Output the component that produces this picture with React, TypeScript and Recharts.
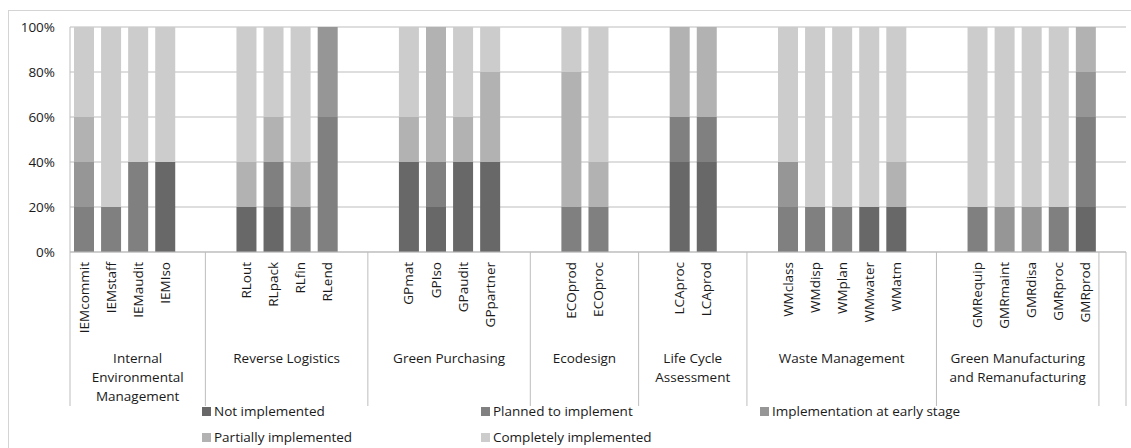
import React from "react";
import { BarChart, Bar, XAxis, YAxis, CartesianGrid } from "recharts";

// ---- data ----
const groupLabels: string[][] = [
  ["Internal", "Environmental", "Management"],
  ["Reverse Logistics"],
  ["Green Purchasing"],
  ["Ecodesign"],
  ["Life Cycle", "Assessment"],
  ["Waste Management"],
  ["Green Manufacturing", "and Remanufacturing"],
  [],
];

const groupItems: string[][] = [
  ["IEMcommit", "IEMstaff", "IEMaudit", "IEMIso"],
  ["RLout", "RLpack", "RLfin", "RLend"],
  ["GPmat", "GPIso", "GPaudit", "GPpartner"],
  ["ECOprod", "ECOproc"],
  ["LCAproc", "LCAprod"],
  ["WMclass", "WMdisp", "WMplan", "WMwater", "WMatm"],
  ["GMRequip", "GMRmaint", "GMRdisa", "GMRproc", "GMRprod"],
  [],
];

const seriesNames = [
  "Not implemented",
  "Planned to implement",
  "Implementation at early stage",
  "Partially implemented",
  "Completely implemented",
];

const notImplemented = [0, 0, 0, 40, 20, 20, 0, 0, 40, 20, 40, 40, 0, 0, 40, 40, 0, 0, 0, 20, 20, 0, 0, 0, 0, 20];
const plannedToImplement = [20, 20, 40, 0, 0, 20, 20, 60, 0, 20, 0, 0, 20, 20, 20, 20, 20, 20, 20, 0, 0, 20, 0, 0, 20, 40];
const earlyStage = [20, 0, 0, 0, 0, 0, 0, 40, 0, 0, 0, 0, 0, 0, 0, 0, 20, 0, 0, 0, 0, 0, 20, 20, 0, 20];
const partiallyImplemented = [20, 0, 0, 0, 20, 20, 20, 0, 20, 60, 20, 40, 60, 20, 40, 40, 0, 0, 0, 0, 20, 0, 0, 0, 0, 20];
const completelyImplemented = [40, 80, 60, 60, 60, 40, 60, 0, 40, 0, 40, 20, 20, 60, 0, 0, 60, 80, 80, 80, 60, 80, 80, 80, 80, 0];

const yTicks = [0, 20, 40, 60, 80, 100];

// ---- styles / layout ----
const seriesValues = [notImplemented, plannedToImplement, earlyStage, partiallyImplemented, completelyImplemented];
const seriesKeys = ["s0", "s1", "s2", "s3", "s4"];
const seriesColors = ["#686868", "#808080", "#969696", "#b2b2b2", "#cccccc"];
// empty slots before / after each group (layout of the multi-level axis)
const padBefore = [0, 1, 1, 1, 1, 1, 1, 1];
const padAfter = [1, 1, 1, 1, 1, 1, 0, 0];

type Row = { [k: string]: any };
const rows: Row[] = [];
let barIdx = 0;
groupItems.forEach((items, g) => {
  const slots = padBefore[g] + items.length + padAfter[g];
  const start = rows.length;
  const pushEmpty = () => {
    const r: Row = { name: "", group: g };
    seriesKeys.forEach((k) => (r[k] = 0));
    rows.push(r);
  };
  for (let i = 0; i < padBefore[g]; i++) pushEmpty();
  items.forEach((it) => {
    const r: Row = { name: it, group: g };
    seriesKeys.forEach((k, s) => (r[k] = seriesValues[s][barIdx]));
    barIdx++;
    rows.push(r);
  });
  for (let i = 0; i < padAfter[g]; i++) pushEmpty();
  rows[start].groupStart = true;
  rows[start].groupSlots = slots;
});

const FONT = "'Open Sans', 'DejaVu Sans', sans-serif";
const TEXT = "#1a1a1a";
const LINE = "#bdbdbd";

function CatTick(props: any) {
  const { x, y, index, width } = props;
  const row = rows[index];
  if (!row) return null;
  const slot = width / rows.length;
  const els: React.ReactNode[] = [];
  if (row.name) {
    els.push(
      <text
        key="t"
        x={x + 5}
        y={y + 10}
        transform={`rotate(-90 ${x + 5} ${y + 10})`}
        textAnchor="end"
        fontFamily={FONT}
        fontSize={13.5}
        fill={TEXT}
      >
        {row.name}
      </text>
    );
  }
  if (row.groupStart) {
    const left = x - slot / 2;
    els.push(<line key="l" x1={left} x2={left} y1={y} y2={y + 154} stroke={LINE} strokeWidth={1} />);
    const cx = left + (row.groupSlots * slot) / 2;
    groupLabels[row.group].forEach((ln, i) => {
      els.push(
        <text key={"g" + i} x={cx} y={y + 111 + i * 19} textAnchor="middle" fontFamily={FONT} fontSize={13.5} fill={TEXT}>
          {ln}
        </text>
      );
    });
  }
  if (index === rows.length - 1) {
    const right = x + slot / 2;
    els.push(<line key="r" x1={right} x2={right} y1={y} y2={y + 154} stroke={LINE} strokeWidth={1} />);
  }
  return <g>{els}</g>;
}

export default function App() {
  return (
    <div style={{ position: "fixed", left: 0, top: 0, width: 1131, height: 448, overflow: "hidden", background: "#fff" }}>
      <div
        style={{
          position: "absolute",
          left: 8,
          top: 10,
          width: 1200,
          height: 600,
          borderLeft: "1px solid #d4d4d4",
          borderTop: "1px solid #d4d4d4",
        }}
      />
      <div style={{ position: "absolute", left: 0, top: 0 }}>
        <BarChart
          width={1131}
          height={448}
          data={rows}
          margin={{ top: 27, right: 5, bottom: 0, left: 10 }}
          barSize={20}
        >
          <CartesianGrid vertical={false} stroke={LINE} strokeWidth={1} />
          <XAxis
            dataKey="name"
            interval={0}
            height={196}
            tickLine={false}
            tickSize={0}
            tickMargin={0}
            axisLine={{ stroke: LINE }}
            tick={<CatTick />}
          />
          <YAxis
            width={60}
            domain={[0, 100]}
            ticks={yTicks}
            interval={0}
            tickLine={false}
            tickSize={0}
            tickMargin={15}
            axisLine={{ stroke: LINE }}
            tickFormatter={(v: number) => `${v}%`}
            tick={{ fontFamily: FONT, fontSize: 13.5, fill: TEXT }}
          />
          {seriesKeys.map((k, i) => (
            <Bar key={k} dataKey={k} name={seriesNames[i]} stackId="a" fill={seriesColors[i]} isAnimationActive={false} />
          ))}
        </BarChart>
      </div>
      {seriesNames.map((n, i) => {
        const col = i % 3;
        const row = Math.floor(i / 3);
        return (
          <div
            key={n}
            style={{
              position: "absolute",
              left: 202 + col * 279,
              top: 402 + row * 26,
              height: 18,
              lineHeight: "18px",
              display: "flex",
              alignItems: "center",
              fontFamily: FONT,
              fontSize: 13.5,
              color: TEXT,
              whiteSpace: "nowrap",
            }}
          >
            <span style={{ display: "inline-block", width: 9, height: 9, background: seriesColors[i], marginRight: 3 }} />
            {n}
          </div>
        );
      })}
    </div>
  );
}
